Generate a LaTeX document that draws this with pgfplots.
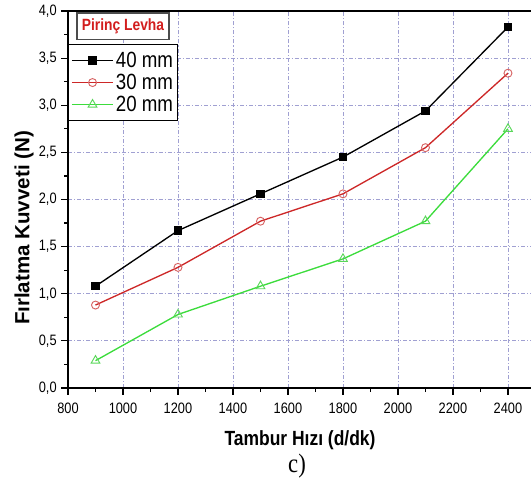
\documentclass[border=0pt]{standalone}
\usepackage{fontspec}
\setmainfont{Liberation Sans}[FakeStretch=0.85]
\newfontfamily\ylabfont{Liberation Sans}
\newfontfamily\capfont{Liberation Serif}[FakeStretch=0.85]
\usepackage{pgfplots}
\pgfplotsset{compat=1.18}

\definecolor{gridc}{RGB}{160,160,210}
\definecolor{redline}{RGB}{205,40,40}
\definecolor{redmark}{RGB}{215,100,100}
\definecolor{greenline}{RGB}{60,220,60}
\definecolor{greenmark}{RGB}{90,215,90}

\begin{document}
\begin{tikzpicture}[x=0.75pt,y=0.75pt]
% picture frame in image pixels, y upward (y_pic = 486 - y_img)
\path[use as bounding box] (0,0) rectangle (531,486);
\coordinate (O) at (68,98);
\begin{axis}[
    at={(O)}, anchor=south west,
    scale only axis,
    width=350.6pt, height=282.75pt,
    xmin=800, xmax=2500, ymin=0, ymax=4,
    xtick={800,1000,1200,1400,1600,1800,2000,2200,2400},
    ytick={0,0.5,1,1.5,2,2.5,3,3.5,4},
    minor x tick num=1, minor y tick num=1,
    tick align=outside, xtick pos=bottom, ytick pos=left,
    major tick length=5pt, minor tick length=3pt,
    tick style={black, line width=0.9pt},
    axis line style={line width=1.3pt},
    grid=major,
    major grid style={gridc, line width=0.6pt, dash pattern=on 3pt off 1.5pt on 0.8pt off 1.5pt},
    scaled ticks=false,
    tick label style={font=\fontsize{11.3}{13}\selectfont},
    xticklabel style={yshift=-3pt, /pgf/number format/1000 sep={}},
    yticklabel style={/pgf/number format/.cd, use comma, fixed, fixed zerofill, precision=1},
    /pgf/number format/assume math mode=true,
    legend style={at={(axis description cs:0,0.9125)}, anchor=north west,
        draw=black, line width=0.8pt, fill=white,
        font=\fontsize{16.5}{18}\selectfont,
        inner xsep=2pt, inner ysep=4pt, row sep=0.5pt,
        nodes={inner sep=1.5pt}},
    legend cell align=left,
    legend image code/.code={\draw[#1, mark repeat=2, mark phase=2]
        plot coordinates {(0pt,0pt)(15.5pt,0pt)(31pt,0pt)};},
]
\addplot[black, line width=1pt, mark=square*, mark size=2.6pt,
    mark options={solid, fill=black}] coordinates {
    (900,1.08) (1200,1.67) (1500,2.06) (1800,2.45) (2100,2.94) (2400,3.83)
};
\addlegendentry{40 mm}
\addplot[redline, line width=1pt, mark=o, mark size=3pt,
    mark options={solid, draw=redmark, fill=white, line width=0.7pt}] coordinates {
    (900,0.88) (1200,1.28) (1500,1.77) (1800,2.06) (2100,2.55) (2400,3.34)
};
\addlegendentry{30 mm}
\addplot[greenline, line width=1pt, mark=triangle, mark size=3.8pt,
    mark options={solid, draw=greenmark, fill=white, line width=0.7pt}] coordinates {
    (900,0.29) (1200,0.78) (1500,1.08) (1800,1.37) (2100,1.77) (2400,2.75)
};
\addlegendentry{20 mm}
\end{axis}
\node[draw=black!70, line width=1pt, fill=white, minimum width=69pt, minimum height=20pt,
    inner sep=1pt, text={rgb,255:red,210;green,30;blue,30},
    font=\bfseries\fontsize{12.2}{13}\selectfont] at (123,459.5) {Pirinç Levha};
\node[font=\bfseries\fontsize{15.4}{16}\selectfont] at (300,46) {Tambur Hızı (d/dk)};
\node[font=\ylabfont\bfseries\fontsize{15.4}{16}\selectfont, rotate=90] at (24,258) {Fırlatma Kuvveti (N)};
\node[font=\capfont\fontsize{20}{22}\selectfont] at (297,20) {c)};
\end{tikzpicture}
\end{document}
